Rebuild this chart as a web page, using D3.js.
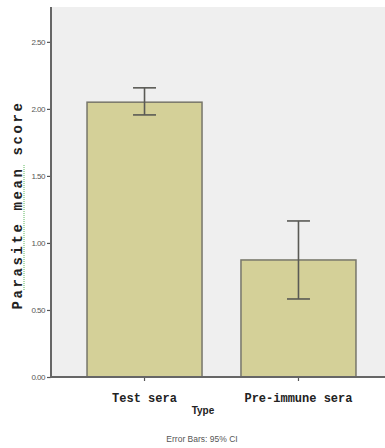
<!DOCTYPE html>
<html><head><meta charset="utf-8">
<script src="https://cdn.jsdelivr.net/npm/d3@7"></script>
<style>body{margin:0;background:#fff}svg{display:block}</style>
</head><body>
<svg id="c" width="385" height="448"></svg>
<script>
const categories = ["Test sera", "Pre-immune sera"];
const means = [2.05, 0.873];
const ciLower = [1.955, 0.582];
const ciUpper = [2.157, 1.164];
const yTicks = [0, 0.5, 1.0, 1.5, 2.0, 2.5];

const svg = d3.select("#c");
const pL = 51, pR = 392, pT = 7, pB = 377;
const y = d3.scaleLinear().domain([0, 2.76]).range([pB, pT]);
const x = d3.scaleBand().domain(categories).range([pL, pR]).paddingInner(0.253).paddingOuter(0.234);

svg.append("rect").attr("x", pL).attr("y", pT).attr("width", pR - pL).attr("height", pB - pT).attr("fill", "#efefef");

svg.selectAll("rect.bar").data(categories).enter().append("rect").attr("class", "bar")
  .attr("x", d => x(d)).attr("width", x.bandwidth())
  .attr("y", (d, i) => y(means[i])).attr("height", (d, i) => pB - y(means[i]))
  .attr("fill", "#d4d098").attr("stroke", "#77766a").attr("stroke-width", 1.5);

const eb = svg.selectAll("g.eb").data(categories).enter().append("g").attr("class", "eb")
  .attr("stroke", "#5a5a55").attr("stroke-width", 1.6);
eb.append("line").attr("x1", d => x(d) + x.bandwidth() / 2).attr("x2", d => x(d) + x.bandwidth() / 2)
  .attr("y1", (d, i) => y(ciLower[i])).attr("y2", (d, i) => y(ciUpper[i]));
eb.append("line").attr("x1", d => x(d) + x.bandwidth() / 2 - 11.5).attr("x2", d => x(d) + x.bandwidth() / 2 + 11.5)
  .attr("y1", (d, i) => y(ciUpper[i])).attr("y2", (d, i) => y(ciUpper[i]));
eb.append("line").attr("x1", d => x(d) + x.bandwidth() / 2 - 11.5).attr("x2", d => x(d) + x.bandwidth() / 2 + 11.5)
  .attr("y1", (d, i) => y(ciLower[i])).attr("y2", (d, i) => y(ciLower[i]));

// Y axis
const yAxis = d3.axisLeft(y).tickValues(yTicks).tickFormat(d3.format(".2f")).tickSize(4).tickPadding(2);
const gy = svg.append("g").attr("transform", `translate(${pL},0)`).call(yAxis);
gy.select(".domain").remove();
gy.selectAll(".tick line").attr("stroke", "#555").attr("stroke-width", 1.2);
gy.selectAll("text").attr("font-family", "'Liberation Sans Narrow','Liberation Sans',sans-serif")
  .attr("font-size", 8).attr("fill", "#555").style("font-stretch", "condensed").attr("letter-spacing", "-0.5");
svg.append("line").attr("x1", pL).attr("x2", pL).attr("y1", pT).attr("y2", pB + 1).attr("stroke", "#666").attr("stroke-width", 2);

// X axis
const xAxis = d3.axisBottom(x).tickSize(4).tickPadding(12);
const gx = svg.append("g").attr("transform", `translate(0,${pB})`).call(xAxis);
gx.select(".domain").remove();
gx.selectAll(".tick line").attr("stroke", "#555").attr("stroke-width", 1.2);
gx.selectAll("text").attr("font-family", "'Liberation Mono','Courier New',monospace")
  .attr("font-size", 12).attr("font-weight", "bold").attr("fill", "#222");
svg.append("line").attr("x1", pL - 1).attr("x2", pR).attr("y1", pB).attr("y2", pB).attr("stroke", "#666").attr("stroke-width", 2);

// Axis titles
svg.append("text").attr("x", 203).attr("y", 414).attr("text-anchor", "middle")
  .attr("font-family", "'Liberation Sans Narrow','Liberation Sans',sans-serif").attr("font-weight", "bold")
  .attr("font-size", 10).attr("fill", "#222").style("font-stretch", "condensed").text("Type");
svg.append("text").attr("transform", "translate(22,205) rotate(-90)").attr("text-anchor", "middle")
  .attr("font-family", "'Liberation Mono','Courier New',monospace").attr("font-weight", "bold")
  .attr("font-size", 14).attr("letter-spacing", "2.6").attr("fill", "#222").text("Parasite mean score");
svg.append("line").attr("x1", 24).attr("x2", 24).attr("y1", 165).attr("y2", 290)
  .attr("stroke", "#5cb85c").attr("stroke-width", 1).attr("stroke-dasharray", "1,1");
svg.append("text").attr("x", 202).attr("y", 442).attr("text-anchor", "middle")
  .attr("font-family", "'Liberation Sans Narrow','Liberation Sans',sans-serif")
  .attr("font-size", 8.5).attr("fill", "#555").style("font-stretch", "condensed").text("Error Bars: 95% CI");
</script>
</body></html>
